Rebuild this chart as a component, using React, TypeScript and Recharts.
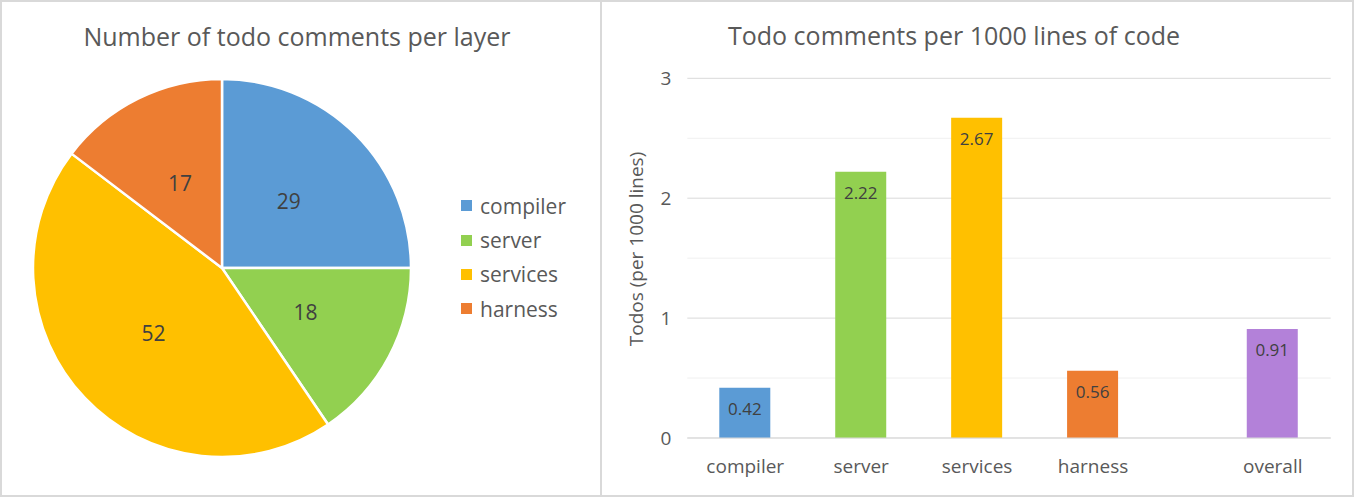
import React from 'react';
import {
  PieChart,
  Pie,
  Cell,
  Legend,
  BarChart,
  Bar,
  XAxis,
  YAxis,
  CartesianGrid,
  LabelList,
} from 'recharts';

// ---- Data ----
const layers = ['compiler', 'server', 'services', 'harness'];
const todoCounts = [29, 18, 52, 17];
const layerColors = ['#5B9BD5', '#92D050', '#FFC000', '#ED7D31'];

const barCategories = ['compiler', 'server', 'services', 'harness', 'overall'];
const barSlots = [0.5, 1.5, 2.5, 3.5, 5.05];
const todosPer1000 = [0.42, 2.22, 2.67, 0.56, 0.91];
const barColors = ['#5B9BD5', '#92D050', '#FFC000', '#ED7D31', '#B381D9'];
const yTicks = [0, 1, 2, 3];
const minorGridValues = [0.5, 1.5, 2.5];

const pieTitle = 'Number of todo comments per layer';
const barTitle = 'Todo comments per 1000 lines of code';
const yAxisTitle = 'Todos (per 1000 lines)';

const pieData = layers.map((name, i) => ({ name, value: todoCounts[i] }));
const barData = barCategories.map((name, i) => ({
  name,
  slot: barSlots[i],
  value: todosPer1000[i],
}));

const FONT = '"Open Sans", "DejaVu Sans", sans-serif';
const RAD = Math.PI / 180;

const renderPieLabel = (props: any) => {
  const { cx, cy, midAngle, outerRadius, value } = props;
  const r = outerRadius * 0.5;
  const x = cx + r * Math.cos(-midAngle * RAD);
  const y = cy + r * Math.sin(-midAngle * RAD);
  return (
    <text
      x={x}
      y={y}
      fill="#404040"
      fontSize={21}
      fontFamily={FONT}
      textAnchor="middle"
      dominantBaseline="central"
    >
      {value}
    </text>
  );
};

const renderLegend = () => {
  return (
    <div style={{ fontFamily: FONT }}>
      {layers.map((name, i) => (
        <div
          key={name}
          style={{ display: 'flex', alignItems: 'center', height: 34.4 }}
        >
          <div
            style={{
              width: 11,
              height: 11,
              background: layerColors[i],
              marginRight: 8,
            }}
          />
          <span style={{ fontSize: 21, color: '#595959' }}>{name}</span>
        </div>
      ))}
    </div>
  );
};

export default function App() {
  return (
    <div
      style={{
        position: 'absolute',
        left: 0,
        top: 0,
        width: 1354,
        height: 497,
        background: '#ffffff',
        fontFamily: FONT,
        overflow: 'hidden',
      }}
    >
      {/* Pie chart panel */}
      <div style={{ position: 'absolute', left: 0, top: 0 }}>
        <PieChart width={600} height={497} margin={{ top: 0, right: 0, bottom: 0, left: 0 }}>
          <Pie
            data={pieData}
            dataKey="value"
            nameKey="name"
            cx={222}
            cy={268}
            outerRadius={189}
            startAngle={90}
            endAngle={-270}
            stroke="#ffffff"
            strokeWidth={2.5}
            label={renderPieLabel}
            labelLine={false}
            isAnimationActive={false}
          >
            {pieData.map((d, i) => (
              <Cell key={d.name} fill={layerColors[i]} />
            ))}
          </Pie>
          <Legend
            layout="vertical"
            content={renderLegend}
            wrapperStyle={{ position: 'absolute', left: 461, top: 188.5, width: 140 }}
          />
        </PieChart>
      </div>
      <div
        style={{
          position: 'absolute',
          left: 297,
          top: 23.5,
          transform: 'translateX(-50%)',
          whiteSpace: 'nowrap',
          fontSize: 25,
          lineHeight: '25px',
          color: '#595959',
        }}
      >
        {pieTitle}
      </div>

      {/* Bar chart panel */}
      <div style={{ position: 'absolute', left: 602, top: 0 }}>
        <BarChart
          width={750}
          height={497}
          data={barData}
          margin={{ top: 78.3, right: 21.3, bottom: 29, left: 25.3 }}
        >
          <CartesianGrid
            vertical={false}
            horizontalValues={minorGridValues}
            stroke="#f0f0f0"
            strokeWidth={1}
          />
          <CartesianGrid
            vertical={false}
            horizontalValues={yTicks}
            stroke="#d9d9d9"
            strokeWidth={1}
          />
          <XAxis
            dataKey="slot"
            type="number"
            domain={[0, 5.55]}
            ticks={barSlots}
            tickFormatter={(v: number) => barCategories[barSlots.indexOf(v)]}
            axisLine={{ stroke: '#d9d9d9' }}
            tickLine={false}
            tickSize={0}
            tickMargin={21.5}
            height={30}
            interval={0}
            tick={{ fill: '#595959', fontSize: 19, fontFamily: FONT }}
          />
          <YAxis
            type="number"
            domain={[0, 3]}
            ticks={yTicks}
            axisLine={false}
            tickLine={false}
            tickSize={0}
            tickMargin={16}
            width={60}
            tick={{ fill: '#595959', fontSize: 19, fontFamily: FONT }}
          />
          <Bar dataKey="value" barSize={51} isAnimationActive={false}>
            {barData.map((d, i) => (
              <Cell key={d.name} fill={barColors[i]} />
            ))}
            <LabelList
              dataKey="value"
              position="insideTop"
              offset={15}
              fill="#404040"
              fontSize={17}
              fontFamily={FONT}
            />
          </Bar>
        </BarChart>
      </div>
      <div
        style={{
          position: 'absolute',
          left: 954,
          top: 22.5,
          transform: 'translateX(-50%)',
          whiteSpace: 'nowrap',
          fontSize: 25,
          lineHeight: '25px',
          color: '#595959',
        }}
      >
        {barTitle}
      </div>
      <div
        style={{
          position: 'absolute',
          left: 636,
          top: 248.5,
          transform: 'translate(-50%, -50%) rotate(-90deg)',
          whiteSpace: 'nowrap',
          fontSize: 19,
          lineHeight: '19px',
          color: '#595959',
        }}
      >
        {yAxisTitle}
      </div>

      {/* Frame and divider */}
      <div
        style={{
          position: 'absolute',
          left: 0,
          top: 0,
          width: 1354,
          height: 497,
          boxSizing: 'border-box',
          border: '2px solid #d9d9d9',
          pointerEvents: 'none',
        }}
      />
      <div
        style={{
          position: 'absolute',
          left: 600,
          top: 0,
          width: 2,
          height: 497,
          background: '#d9d9d9',
        }}
      />
    </div>
  );
}
